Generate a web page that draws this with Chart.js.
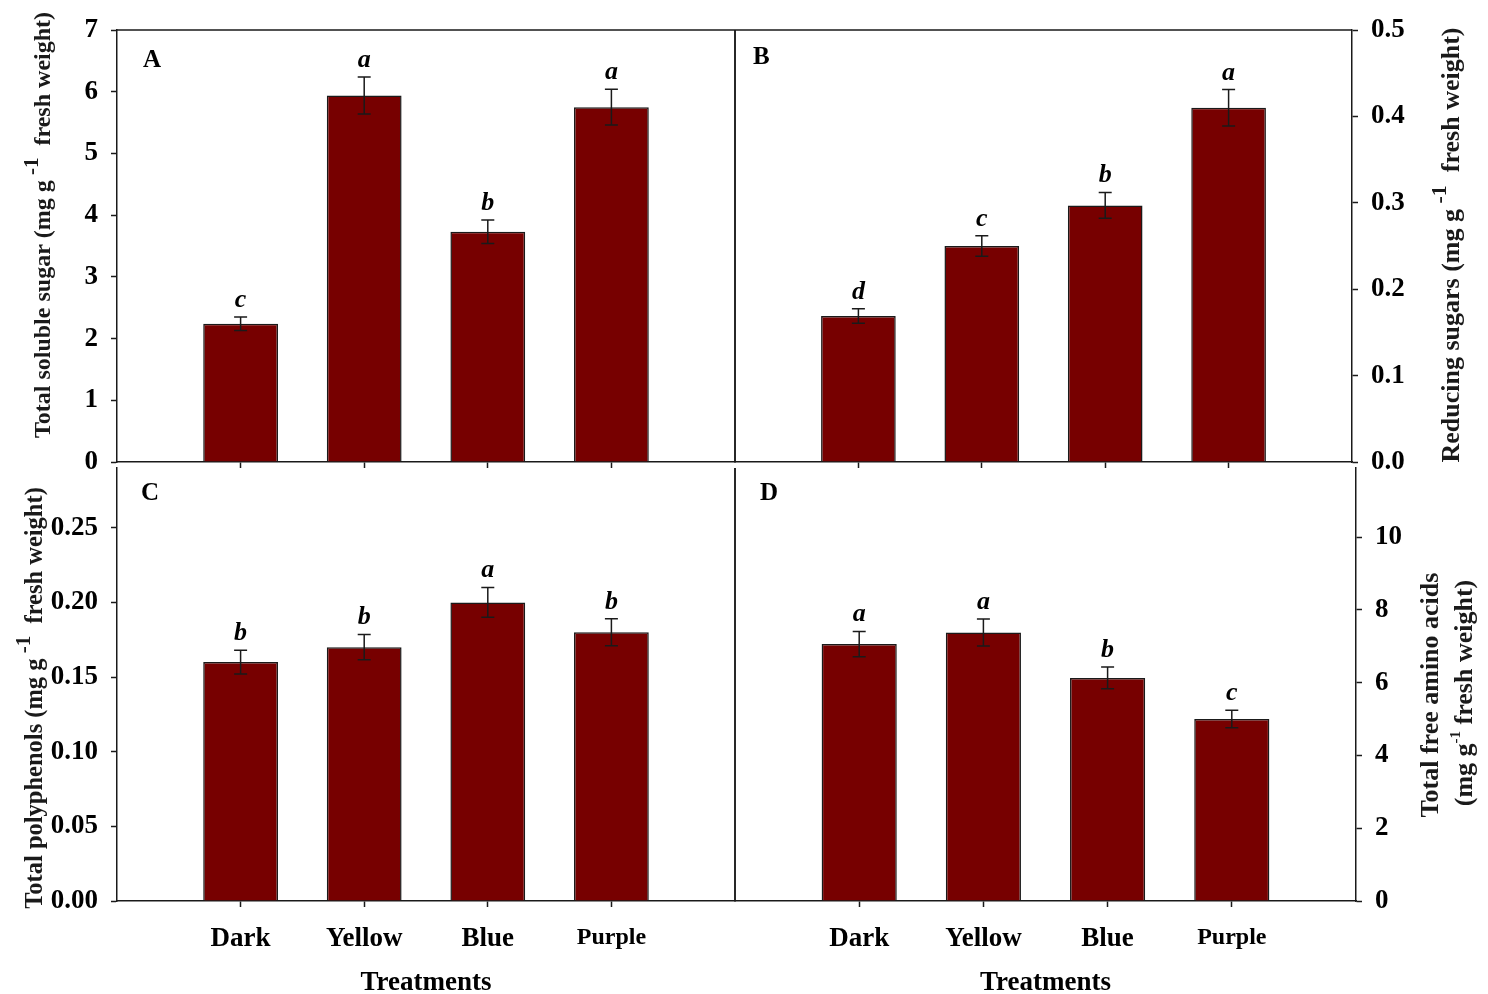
<!DOCTYPE html>
<html>
<head>
<meta charset="utf-8">
<script src="https://cdn.jsdelivr.net/npm/chart.js@4.4.1/dist/chart.umd.min.js"></script>
<style>
  html, body { margin: 0; padding: 0; background: #fff; }
  #wrap { position: relative; width: 1488px; height: 994px; overflow: hidden; background: #fff; }
  #wrap canvas { position: absolute; left: 0; top: 0; }
</style>
</head>
<body>
<div id="wrap">
  <canvas id="panelA" width="1488" height="994"></canvas>
  <canvas id="panelB" width="1488" height="994"></canvas>
  <canvas id="panelC" width="1488" height="994"></canvas>
  <canvas id="panelD" width="1488" height="994"></canvas>
</div>
<script>
// Light treatments (x categories)
const treatments = ['Dark', 'Yellow', 'Blue', 'Purple'];

// A: total soluble sugar (mg/g FW), mean, SE and significance groups
const solubleSugar = [2.24, 5.94, 3.73, 5.75];
const solubleSugarErr = [0.11, 0.30, 0.19, 0.29];
const solubleSugarSig = ['c', 'a', 'b', 'a'];

// B: reducing sugars (mg/g FW)
const reducingSugar = [0.169, 0.250, 0.297, 0.410];
const reducingSugarErr = [0.0085, 0.012, 0.015, 0.021];
const reducingSugarSig = ['d', 'c', 'b', 'a'];

// C: total polyphenols (mg/g FW)
const polyphenols = [0.160, 0.170, 0.200, 0.180];
const polyphenolsErr = [0.008, 0.0085, 0.010, 0.009];
const polyphenolsSig = ['b', 'b', 'a', 'b'];

// D: total free amino acids (mg/g FW)
const aminoAcids = [7.06, 7.38, 6.13, 5.00];
const aminoAcidsErr = [0.35, 0.37, 0.30, 0.24];
const aminoAcidsSig = ['a', 'a', 'b', 'c'];

const W = 1488, H = 994;
const SERIF = "'Liberation Serif', 'Times New Roman', serif";
const BAR_FILL = '#770000';
const INK = '#1a1a1a';

// Draws a title turned to read bottom-to-top, with an optional raised "-1"
function drawRotated(ctx, baseX, centerY, parts) {
  ctx.save();
  ctx.fillStyle = INK;
  ctx.textBaseline = 'alphabetic';
  ctx.textAlign = 'left';
  let total = 0;
  const widths = parts.map(p => {
    ctx.font = 'bold ' + p.size + 'px ' + SERIF;
    const w = ctx.measureText(p.text).width;
    total += w;
    return w;
  });
  ctx.translate(baseX, centerY);
  ctx.rotate(-Math.PI / 2);
  let x = -total / 2;
  parts.forEach((p, i) => {
    ctx.font = 'bold ' + p.size + 'px ' + SERIF;
    ctx.fillText(p.text, x, -(p.rise || 0));
    x += widths[i];
  });
  ctx.restore();
}

// Error bars, significance letters, panel letter, frame lines and y-axis title
function decor(cfg) {
  return {
    id: 'decor',
    afterDatasetsDraw(chart) {
      const ctx = chart.ctx;
      const xs = chart.scales.x, ys = chart.scales.y;
      const area = chart.chartArea;
      ctx.save();
      ctx.strokeStyle = INK;
      ctx.lineWidth = 1.5;
      // frame
      ctx.beginPath();
      cfg.frame.forEach(side => {
        if (side === 'top') { ctx.moveTo(area.left, area.top); ctx.lineTo(area.right, area.top); }
        if (side === 'right') { ctx.moveTo(area.right, area.top); ctx.lineTo(area.right, area.bottom); }
        if (side === 'left') { ctx.moveTo(area.left, area.top); ctx.lineTo(area.left, area.bottom); }
      });
      ctx.stroke();
      // error bars and letters
      cfg.values.forEach((v, i) => {
        const px = xs.getPixelForValue(i + 1);
        const yT = ys.getPixelForValue(v + cfg.errors[i]);
        const yB = ys.getPixelForValue(v - cfg.errors[i]);
        const cap = 6.5;
        ctx.beginPath();
        ctx.moveTo(px, yT); ctx.lineTo(px, yB);
        ctx.moveTo(px - cap, yT); ctx.lineTo(px + cap, yT);
        ctx.moveTo(px - cap, yB); ctx.lineTo(px + cap, yB);
        ctx.stroke();
        ctx.fillStyle = '#000';
        ctx.font = 'italic bold 26px ' + SERIF;
        ctx.textAlign = 'center';
        ctx.textBaseline = 'alphabetic';
        ctx.fillText(cfg.marks[i], px, yT - 10);
      });
      // panel letter
      ctx.fillStyle = '#000';
      ctx.font = 'bold 25px ' + SERIF;
      ctx.textAlign = 'left';
      ctx.textBaseline = 'alphabetic';
      ctx.fillText(cfg.letter, area.left + cfg.letterDx, area.top + cfg.letterDy);
      ctx.restore();
      // y-axis titles
      cfg.titles.forEach(t => drawRotated(ctx, t.x, t.y, t.parts));
    }
  };
}

function panel(id, cfg) {
  const yW = cfg.side === 'left' ? cfg.left : W - cfg.right;
  const xH = cfg.xLabels ? H - cfg.bottom : 10;
  return new Chart(document.getElementById(id), {
    type: 'bar',
    data: {
      datasets: [{
        data: cfg.values.map((v, i) => ({ x: i + 1, y: v })),
        backgroundColor: BAR_FILL,
        borderColor: INK,
        borderWidth: 1.5,
        barPercentage: 0.605,
        categoryPercentage: 1
      }]
    },
    options: {
      responsive: false,
      animation: false,
      devicePixelRatio: 1,
      layout: {
        padding: {
          left: cfg.side === 'left' ? 0 : cfg.left,
          right: cfg.side === 'left' ? W - cfg.right : 0,
          top: cfg.top,
          bottom: H - cfg.bottom - xH
        }
      },
      plugins: { legend: { display: false }, tooltip: { enabled: false } },
      scales: {
        x: {
          type: 'linear', min: 0, max: 5, offset: false,
          afterFit: s => { s.height = xH; },
          ticks: {
            stepSize: 1, autoSkip: false, maxRotation: 0, minRotation: 0,
            padding: 16, color: '#000',
            font: c => ({ family: SERIF, weight: 'bold', size: (c.tick && c.tick.value === 4) ? 24 : 27 }),
            callback: v => cfg.xLabels ? (treatments[v - 1] || '') : ''
          },
          grid: {
            offset: false,
            drawOnChartArea: false, drawTicks: true, tickLength: 6, tickWidth: 1.5,
            tickColor: c => (c.tick && c.tick.value >= 1 && c.tick.value <= 4) ? INK : 'rgba(0,0,0,0)'
          },
          border: { display: true, color: INK, width: 1.5 },
          title: {
            display: !!cfg.xLabels, text: 'Treatments', color: '#000',
            font: { family: SERIF, weight: 'bold', size: 27, lineHeight: 0.8 },
            padding: { top: 0, bottom: 0 }
          }
        },
        y: {
          position: cfg.side, min: 0, max: cfg.yMax,
          afterFit: s => { s.width = yW; },
          ticks: {
            stepSize: cfg.yStep, includeBounds: false, padding: 13, color: '#000',
            font: { family: SERIF, weight: 'bold', size: 27 },
            callback: v => Number(v).toFixed(cfg.decimals)
          },
          grid: { drawOnChartArea: false, drawTicks: true, tickLength: 6, tickWidth: 1.5, tickColor: INK },
          border: { display: true, color: INK, width: 1.5 }
        }
      }
    },
    plugins: [decor(cfg)]
  });
}

panel('panelA', {
  values: solubleSugar, errors: solubleSugarErr, marks: solubleSugarSig,
  left: 117, right: 735, top: 30, bottom: 462, side: 'left',
  yMax: 7, yStep: 1, decimals: 0, xLabels: false,
  frame: ['top', 'right'], letter: 'A', letterDx: 26, letterDy: 37,
  titles: [{ x: 50, y: 225, parts: [
    { text: 'Total soluble sugar (mg g', size: 24 },
    { text: ' -1', size: 21, rise: 12 },
    { text: '  fresh weight)', size: 24 }] }]
});

panel('panelB', {
  values: reducingSugar, errors: reducingSugarErr, marks: reducingSugarSig,
  left: 735, right: 1352, top: 30, bottom: 462, side: 'right',
  yMax: 0.5, yStep: 0.1, decimals: 1, xLabels: false,
  frame: ['top', 'left'], letter: 'B', letterDx: 18, letterDy: 34,
  titles: [{ x: 1459, y: 245, parts: [
    { text: 'Reducing sugars (mg g', size: 26 },
    { text: ' -1', size: 22, rise: 13 },
    { text: '  fresh weight)', size: 26 }] }]
});

panel('panelC', {
  values: polyphenols, errors: polyphenolsErr, marks: polyphenolsSig,
  left: 117, right: 735, top: 468, bottom: 901, side: 'left',
  yMax: 0.29, yStep: 0.05, decimals: 2, xLabels: true,
  frame: ['right'], letter: 'C', letterDx: 24, letterDy: 32,
  titles: [{ x: 42, y: 698, parts: [
    { text: 'Total polyphenols (mg g', size: 24.5 },
    { text: ' -1', size: 21, rise: 12 },
    { text: '  fresh weight)', size: 24.5 }] }]
});

panel('panelD', {
  values: aminoAcids, errors: aminoAcidsErr, marks: aminoAcidsSig,
  left: 735, right: 1356, top: 468, bottom: 901, side: 'right',
  yMax: 11.9, yStep: 2, decimals: 0, xLabels: true,
  frame: ['left'], letter: 'D', letterDx: 25, letterDy: 32,
  titles: [
    { x: 1438, y: 695, parts: [{ text: 'Total free amino acids', size: 26 }] },
    { x: 1472, y: 693, parts: [
      { text: '(mg g', size: 26 },
      { text: '-1', size: 15, rise: 12 },
      { text: ' fresh weight)', size: 26 }] }
  ]
});
</script>
</body>
</html>
